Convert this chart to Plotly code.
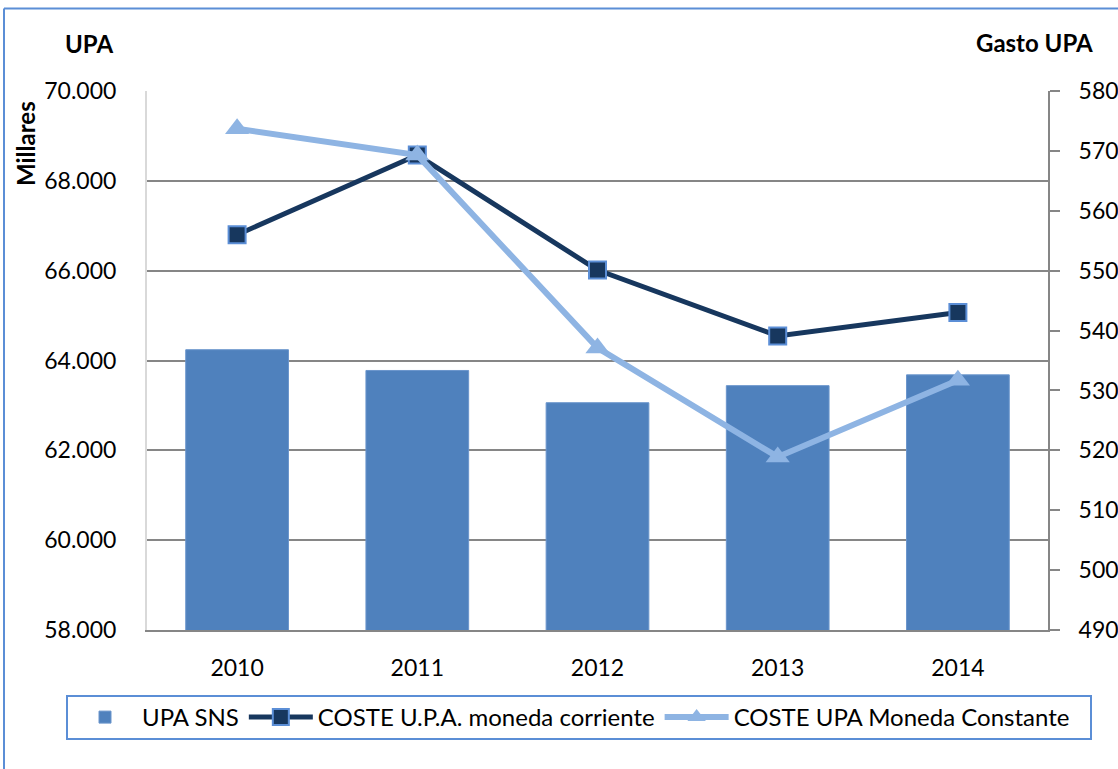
import plotly.graph_objects as go

years = ["2010", "2011", "2012", "2013", "2014"]
upa_sns = [64240, 63778, 63060, 63440, 63680]
coste_corriente = [556.0, 569.3, 550.1, 539.1, 543.0]
coste_constante = [573.7, 569.3, 537.1, 518.9, 531.7]

left_ticks = [58000, 60000, 62000, 64000, 66000, 68000, 70000]
right_ticks = [490, 500, 510, 520, 530, 540, 550, 560, 570, 580]

FONT = "Lato"
W, H = 1118, 769
L, R, T, B = 147, 1048, 91, 630
pw, ph = R - L, B - T

def px_x(x):
    return (x - L) / pw

def px_y(y):
    return (B - y) / ph

fig = go.Figure()
fig.add_trace(go.Bar(
    x=years, y=upa_sns, name="UPA SNS",
    marker=dict(color="#4F81BD", line=dict(color="#6A95CC", width=1)),
))
fig.add_trace(go.Scatter(
    x=years, y=coste_corriente, name="COSTE U.P.A. moneda corriente",
    yaxis="y2", mode="lines+markers",
    line=dict(color="#17375E", width=5),
    marker=dict(symbol="square", size=17, color="#17375E",
                line=dict(color="#5B8ED6", width=2)),
))
fig.add_trace(go.Scatter(
    x=years, y=coste_constante, name="COSTE UPA Moneda Constante",
    yaxis="y2", mode="lines+markers",
    line=dict(color="#8EB4E3", width=6),
    marker=dict(symbol="triangle-up", size=21, color="#8EB4E3",
                line=dict(color="#8EB4E3", width=0)),
))

fig.update_layout(
    width=W, height=H,
    margin=dict(l=L, r=W - R, t=T, b=H - B, autoexpand=False),
    paper_bgcolor="white", plot_bgcolor="white",
    separators=",.",
    bargap=0.43,
    font=dict(family=FONT, size=23, color="#000000"),
    xaxis=dict(
        type="category", showgrid=False, showline=True,
        linecolor="#868686", linewidth=2, ticks="",
        tickfont=dict(family=FONT, size=23), ticklabelstandoff=16,
    ),
    yaxis=dict(
        range=[58000, 70000], tickvals=left_ticks, tickformat=",.0f",
        showgrid=True, gridcolor="#868686", gridwidth=2,
        showline=True, linecolor="#D9D9D9", linewidth=2,
        ticks="", zeroline=False,
        tickfont=dict(family=FONT, size=23), ticklabelstandoff=24,
    ),
    yaxis2=dict(
        range=[490, 580], tickvals=right_ticks, overlaying="y", side="right",
        showgrid=False, showline=True, linecolor="#868686", linewidth=2,
        ticks="outside", ticklen=10, tickcolor="#868686", tickwidth=2,
        zeroline=False,
        tickfont=dict(family=FONT, size=23), ticklabelstandoff=14,
    ),
    legend=dict(
        orientation="h", x=px_x(68), xanchor="left",
        y=px_y(717.5), yanchor="middle",
        font=dict(family=FONT, size=24), bgcolor="rgba(0,0,0,0)",
        borderwidth=0, itemwidth=64,
    ),
    showlegend=True,
)

# outer chart border (top and left edge)
fig.add_shape(type="line", xref="paper", yref="paper",
              x0=px_x(4), x1=px_x(W + 5), y0=px_y(8.5), y1=px_y(8.5),
              line=dict(color="#5B8ED6", width=2))
fig.add_shape(type="line", xref="paper", yref="paper",
              x0=px_x(4), x1=px_x(4), y0=px_y(8.5), y1=px_y(H + 5),
              line=dict(color="#5B8ED6", width=2))
# legend frame
fig.add_shape(type="rect", xref="paper", yref="paper",
              x0=px_x(67), x1=px_x(1091), y0=px_y(739), y1=px_y(696),
              line=dict(color="#5B8ED6", width=2))

fig.add_annotation(text="<b>UPA</b>", xref="paper", yref="paper",
                   x=px_x(89), y=px_y(43), showarrow=False,
                   xanchor="center", yanchor="middle",
                   font=dict(family=FONT, size=24))
fig.add_annotation(text="<b>Gasto UPA</b>", xref="paper", yref="paper",
                   x=px_x(1034), y=px_y(42), showarrow=False,
                   xanchor="center", yanchor="middle",
                   font=dict(family=FONT, size=24))
fig.add_annotation(text="<b>Millares</b>", xref="paper", yref="paper",
                   x=px_x(25), y=px_y(143), showarrow=False, textangle=-90,
                   xanchor="center", yanchor="middle",
                   font=dict(family=FONT, size=24))

fig.write_html("out.html", config={"displayModeBar": False},
               post_script="document.body.style.margin='0px';")
